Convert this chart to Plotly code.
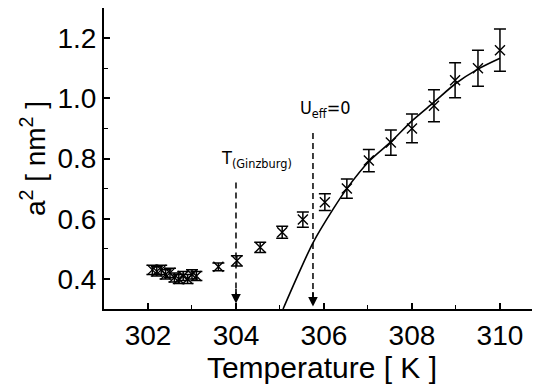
import plotly.graph_objects as go

# measured data
temp = [302.1, 302.2, 302.3, 302.4, 302.5, 302.6, 302.7, 302.8, 302.9, 303.0, 303.1,
        303.6, 304.02, 304.55, 305.05, 305.52, 306.02, 306.52, 307.02, 307.52,
        308.0, 308.5, 308.98, 309.5, 310.0]
a2 = [0.43, 0.425, 0.43, 0.415, 0.42, 0.405, 0.40, 0.41, 0.40, 0.415, 0.41,
      0.44, 0.46, 0.505, 0.555, 0.597, 0.655, 0.70, 0.793, 0.853,
      0.90, 0.975, 1.06, 1.10, 1.16]
a2_err = [0.015, 0.015, 0.015, 0.015, 0.015, 0.015, 0.015, 0.015, 0.015, 0.015, 0.015,
          0.013, 0.017, 0.017, 0.02, 0.025, 0.028, 0.032, 0.037, 0.042,
          0.048, 0.053, 0.058, 0.06, 0.07]

# fit curve
fit_temp = [305.07, 305.4, 305.75, 306.2, 306.52, 307.02, 307.52, 308.0, 308.5, 309.0, 309.5, 310.0]
fit_a2 = [0.30, 0.41, 0.52, 0.63, 0.70, 0.79, 0.855, 0.925, 0.987, 1.05, 1.097, 1.133]

# markers
t_ginzburg = 304.0
t_ueff = 305.75
x_ticks = [302, 304, 306, 308, 310]
y_ticks = [0.4, 0.6, 0.8, 1.0, 1.2]

fig = go.Figure()
fig.add_trace(go.Scatter(
    x=fit_temp, y=fit_a2, mode="lines",
    line=dict(color="black", width=1.6, shape="spline", smoothing=0.8),
    showlegend=False, hoverinfo="skip"))
fig.add_trace(go.Scatter(
    x=temp, y=a2, mode="markers",
    marker=dict(symbol="x-thin-open", size=10, color="black",
                line=dict(color="black", width=1.4)),
    error_y=dict(type="data", array=a2_err, visible=True, color="black",
                 thickness=1.5, width=6),
    showlegend=False))

# dashed indicator lines
fig.add_shape(type="line", x0=t_ginzburg, x1=t_ginzburg, y0=0.72, y1=0.34,
              line=dict(color="black", width=1.5, dash="6px,4px"))
fig.add_shape(type="line", x0=t_ueff, x1=t_ueff, y0=0.885, y1=0.33,
              line=dict(color="black", width=1.5, dash="6px,4px"))
for xv, ytip in [(t_ginzburg, 0.318), (t_ueff, 0.308)]:
    fig.add_annotation(x=xv, y=ytip, ax=0, ay=-16, axref="pixel", ayref="pixel",
                       text="", showarrow=True, arrowhead=2, arrowsize=1.2,
                       arrowwidth=1.6, arrowcolor="black")

lab_font = dict(family="DejaVu Sans Condensed, Liberation Sans Narrow, Arial", size=18, color="black")
fig.add_annotation(x=303.62, y=0.80, xanchor="left", yanchor="middle", showarrow=False,
                   text="T<sub>(Ginzburg)</sub>", font=lab_font)
fig.add_annotation(x=305.4, y=0.965, xanchor="left", yanchor="middle", showarrow=False,
                   text="U<sub>eff</sub>=0", font=lab_font)

# page body adds an 8px offset, so the figure is laid out 8px up/left
fig.update_layout(
    width=532, height=376,
    margin=dict(l=96, r=0, t=0, b=75),
    paper_bgcolor="white", plot_bgcolor="white",
    font=dict(family="Liberation Sans, Arial", color="black"),
    xaxis=dict(range=[301.0, 310.91], tickvals=x_ticks, ticktext=[str(v) for v in x_ticks],
               automargin=False,
               ticks="inside", ticklen=6, tickwidth=1.5, tickcolor="black",
               showline=True, linecolor="black", linewidth=2, mirror=True,
               showgrid=False, zeroline=False, tickfont=dict(size=28),
               minor=dict(tickvals=[303, 305, 307, 309], ticks="inside", ticklen=4,
                          tickwidth=1.2, tickcolor="black", showgrid=False),
               title=dict(text="Temperature [ K ]", font=dict(size=30), standoff=0)),
    yaxis=dict(range=[0.3, 1.3], tickvals=y_ticks, ticktext=["0.4", "0.6", "0.8", "1.0", "1.2"],
               automargin=False,
               ticks="inside", ticklen=6, tickwidth=1.5, tickcolor="black",
               showline=True, linecolor="black", linewidth=2, mirror=False,
               showgrid=False, zeroline=False, tickfont=dict(size=28),
               minor=dict(tickvals=[0.5, 0.7, 0.9, 1.1], ticks="inside", ticklen=4,
                          tickwidth=1.2, tickcolor="black", showgrid=False),
               title=dict(text="a<sup>2</sup> [ nm<sup>2</sup> ]", font=dict(size=28), standoff=4)),
)

fig.write_html("out.html")
